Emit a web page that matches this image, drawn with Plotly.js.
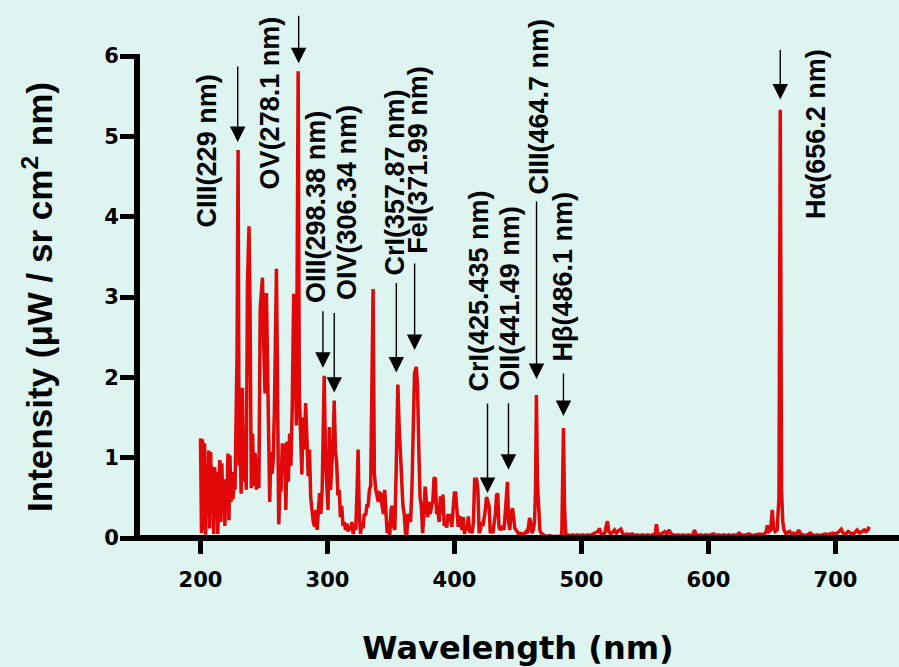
<!DOCTYPE html>
<html><head><meta charset="utf-8">
<script src="https://cdn.plot.ly/plotly-3.0.1.min.js"></script>
<style>html,body{margin:0;padding:0;background:#ddf4f0;}</style>
</head><body>
<div id="chart" style="width:899px;height:667px;"></div>
<script>
// Spectrum data: wavelength (nm) and intensity (µW / sr cm² nm)
const wlA = [200, 200.8, 201.6, 202.4, 203.2, 204, 204.8, 205.6, 206.4, 207.2, 208, 208.8, 209.6, 210.4, 211.2, 212, 212.8, 213.6, 214.4, 215.2, 216, 216.8, 217.6, 218.4, 219.2, 220, 220.8, 221.6, 222.4, 223.2, 224, 224.8, 225.6, 226.4, 227.2, 228, 228.8, 229.6, 230.4, 231.2, 232, 233, 234, 235, 236, 237, 238.2, 239, 240, 241, 242, 243, 244, 245, 246, 247, 248.8, 249.8, 250.8, 251.9, 252.8, 253.6, 254.5, 255.4, 256.3, 257.2, 258.2, 259.8];
const intA = [1.24, 0.06, 1.23, 0.10, 1.18, 0.04, 0.80, 0.30, 1.09, 0.12, 1.07, 0.35, 0.89, 0.05, 0.88, 0.28, 0.82, 0.05, 0.62, 0.97, 0.20, 0.93, 0.32, 0.73, 0.15, 0.70, 0.42, 1.05, 0.22, 1.03, 0.45, 0.82, 0.48, 0.75, 0.60, 1.50, 2.34, 4.83, 0.90, 1.20, 0.55, 1.87, 0.70, 1.30, 0.60, 3.20, 3.88, 2.90, 0.62, 1.30, 0.65, 1.06, 0.60, 1.00, 0.62, 2.86, 3.24, 2.40, 1.80, 3.05, 2.09, 1.30, 0.45, 1.07, 0.80, 0.95, 1.60, 3.35];

const wlB = [260.8, 261.6, 262.5, 263.4, 264.4, 265.3, 266.2, 267.2, 268.2, 269.2, 270.2, 271.2, 272.2, 273.4, 274.4, 275.5, 276.9, 277.8, 278.8, 279.8, 280.8, 281.8, 282.8, 283.8, 284.8, 285.8, 286.8, 287.8, 288.8, 289.9, 290.9, 291.8, 292.8, 293.8, 294.8, 295.8, 296.6, 297.4, 298.4, 299.4, 300.4, 301.4, 302.4, 303.4, 304.4, 305.3, 306.2, 307.2, 308.2, 309.2, 310.2, 311.2, 312.2, 313.2, 314.2, 315.2, 316.2, 317.2, 318.2, 319.2, 320.2, 321.2, 322.2, 323.3, 324.1, 325, 326, 327, 328, 329, 330, 331, 332, 333, 334, 335.9, 336.9, 338, 339];
const intB = [1.63, 0.17, 0.60, 0.58, 1.18, 0.80, 1.18, 0.35, 1.20, 0.70, 1.30, 0.90, 1.60, 3.04, 2.30, 1.40, 5.81, 1.80, 1.30, 0.79, 1.50, 1.10, 1.68, 1.20, 0.77, 1.10, 0.50, 0.35, 0.20, 0.14, 0.35, 0.10, 0.40, 0.56, 0.30, 0.60, 1.30, 2.02, 1.00, 0.60, 0.35, 1.38, 0.60, 0.90, 1.20, 1.71, 1.10, 0.94, 0.53, 0.60, 0.26, 0.40, 0.15, 0.20, 0.10, 0.18, 0.08, 0.15, 0.10, 0.20, 0.05, 0.14, 0.10, 0.60, 1.10, 0.30, 0.05, 0.20, 0.12, 0.30, 0.28, 0.40, 0.40, 0.60, 0.65, 3.10, 0.80, 0.60, 0.50];

const wlC = [340, 341, 342, 343, 344, 345, 346, 347, 348, 349, 350, 351, 352, 353, 354, 355.4, 356.4, 357.4, 358.4, 359.4, 360.4, 361.4, 362.4, 363.4, 364.4, 365.4, 366.5, 367.5, 368.5, 369.9, 370.9, 371.9, 372.9, 373.9, 374.9, 375.9, 376.9, 377.9, 378.9, 379.9, 380.9, 381.9, 382.9, 383.9, 384.9, 385.9, 386.9, 387.9, 388.9, 389.9, 390.9, 391.9, 392.9, 393.9, 394.9, 395.9, 396.9, 397.9, 398.9, 399.9, 400.9, 401.9, 402.9, 403.9, 404.9, 405.9, 406.9, 407.9, 408.9, 409.9, 410.9, 411.9, 412.9, 413.9, 414.9, 415.9, 417.4, 418.4, 419.4];
const intC = [0.45, 0.56, 0.55, 0.40, 0.30, 0.60, 0.35, 0.06, 0.20, 0.03, 0.35, 0.40, 0.15, 0.10, 0.80, 1.91, 1.40, 1.01, 0.68, 0.40, 0.30, 0.06, 0.03, 0.30, 0.25, 0.20, 0.63, 1.20, 2.05, 2.13, 1.88, 1.10, 0.50, 0.40, 0.06, 0.30, 0.64, 0.45, 0.26, 0.45, 0.30, 0.40, 0.45, 0.74, 0.75, 0.30, 0.34, 0.20, 0.52, 0.30, 0.54, 0.15, 0.20, 0.13, 0.30, 0.20, 0.30, 0.14, 0.40, 0.56, 0.56, 0.27, 0.14, 0.26, 0.25, 0.10, 0.26, 0.05, 0.15, 0.10, 0.27, 0.07, 0.10, 0.06, 0.20, 0.73, 0.73, 0.60, 0.06];

const wlD = [420.4, 421.4, 422.4, 423.4, 424.3, 425.2, 426.2, 427.2, 428.2, 429.2, 430.2, 431.2, 432.2, 433.2, 434.1, 435, 436, 437, 438, 439, 440, 440.9, 441.7, 442.6, 443.5, 444.5, 445.7, 446.6, 447.5, 448.5, 449.5, 450.5, 451.5, 452.5, 453.5, 454.5, 455.5, 456.5, 457.5, 458.5, 459.1, 460, 461, 462, 463, 463.8, 464.5, 465.3, 466.2, 467.2, 468.2, 469.5, 471, 473, 475, 477, 479, 481, 483, 484.5, 485.2, 485.8, 486.6, 487.5, 489, 491, 493, 495, 497, 499];
const intD = [0.10, 0.20, 0.15, 0.25, 0.35, 0.51, 0.45, 0.40, 0.06, 0.10, 0.06, 0.20, 0.30, 0.55, 0.54, 0.14, 0.10, 0.12, 0.15, 0.10, 0.30, 0.50, 0.70, 0.20, 0.10, 0.30, 0.37, 0.25, 0.12, 0.10, 0.07, 0.05, 0.07, 0.03, 0.05, 0.04, 0.06, 0.08, 0.06, 0.15, 0.25, 0.20, 0.06, 0.10, 0.20, 0.60, 1.78, 0.70, 0.30, 0.10, 0.06, 0.04, 0.03, 0.02, 0.03, 0.02, 0.02, 0.03, 0.02, 0.05, 0.80, 1.37, 0.40, 0.05, 0.04, 0.03, 0.04, 0.03, 0.04, 0.03];

const wlE = [501, 503, 505, 507, 509, 511, 513, 514.1, 515.5, 517, 518.5, 519.5, 520.4, 521.5, 523, 524.5, 526, 527.5, 529, 531, 532.5, 534, 536, 538, 540, 542, 544, 546, 548, 550, 552, 554, 556, 558, 559, 560, 562, 564, 565.5, 567, 569, 570.5, 572, 574, 576, 578, 580, 582, 584, 586, 588, 589, 590, 592, 594, 596, 598, 600, 602, 604, 606, 608, 610, 612, 614, 616, 618, 620, 622, 624, 626, 628, 630, 632, 634, 636, 638, 640, 642, 644, 645.5, 646.3, 647.5, 649, 650.2, 651.3, 652.5, 654, 655.5, 656.5, 657.5, 658.5, 659.5, 661, 662.5, 664, 665.5, 667, 669, 671, 672.5, 674, 676, 678, 680, 682, 684, 686, 688, 690, 692, 694, 696, 698, 700, 702, 704.5, 706, 708, 710, 712, 714, 716, 717, 719, 721, 722.6, 724, 725.5, 726.5];
const intE = [0.04, 0.03, 0.04, 0.03, 0.05, 0.07, 0.08, 0.12, 0.05, 0.04, 0.07, 0.15, 0.21, 0.08, 0.05, 0.07, 0.10, 0.06, 0.09, 0.11, 0.05, 0.04, 0.05, 0.04, 0.05, 0.03, 0.04, 0.03, 0.04, 0.03, 0.04, 0.03, 0.04, 0.05, 0.17, 0.06, 0.04, 0.06, 0.08, 0.05, 0.10, 0.05, 0.04, 0.03, 0.04, 0.03, 0.04, 0.03, 0.04, 0.03, 0.05, 0.10, 0.05, 0.03, 0.04, 0.03, 0.04, 0.03, 0.04, 0.05, 0.03, 0.04, 0.03, 0.04, 0.03, 0.04, 0.03, 0.04, 0.03, 0.06, 0.04, 0.03, 0.04, 0.05, 0.03, 0.04, 0.05, 0.05, 0.04, 0.05, 0.08, 0.16, 0.08, 0.10, 0.35, 0.12, 0.08, 0.10, 0.50, 5.33, 0.60, 0.20, 0.10, 0.05, 0.07, 0.08, 0.04, 0.06, 0.04, 0.10, 0.05, 0.04, 0.03, 0.04, 0.06, 0.04, 0.03, 0.04, 0.03, 0.04, 0.05, 0.04, 0.05, 0.06, 0.05, 0.07, 0.11, 0.06, 0.05, 0.08, 0.06, 0.05, 0.08, 0.10, 0.06, 0.08, 0.10, 0.08, 0.10, 0.14];

const xTickVals = [200, 300, 400, 500, 600, 700];
const yTickVals = [0, 1, 2, 3, 4, 5, 6];

// Emission line labels
const lineLabels = ['CIII(229 nm)', 'OV(278.1 nm)', 'OIII(298.38 nm)', 'OIV(306.34 nm)', 'CrI(357.87 nm)', 'FeI(371.99 nm)', 'CrI(425.435 nm)', 'OII(441.49 nm)', 'CIII(464.7 nm)', 'H\u03b2(486.1 nm)', 'H\u03b1(656.2 nm)'];
const labelX = [205.1, 254.5, 291.5, 315.0, 352.8, 371.7, 419.7, 444.1, 466.9, 485.8, 684.7];
const labelBottom = [3.86, 4.33, 2.91, 2.95, 3.25, 3.52, 1.81, 1.82, 4.27, 2.19, 3.96];
const arrowX = [229.3, 277.3, 296.4, 305.3, 354.2, 368.6, 426.0, 442.5, 464.6, 485.8, 656.5];
const arrowTip = [4.93, 5.91, 2.12, 1.81, 2.06, 2.34, 0.56, 0.85, 1.98, 1.52, 5.46];
const arrowLen = [77, 49, 58, 81, 91, 88, 91, 68, 179, 44, 51];

const wavelength = wlA.concat(wlB, wlC, wlD, wlE);
const intensity = intA.concat(intB, intC, intD, intE);

const bg = '#ddf4f0';
const tickFont = {family: 'DejaVu Sans, Verdana, sans-serif', size: 21, color: '#000', weight: 700};

const annotations = [];
lineLabels.forEach((t, i) => {
  annotations.push({
    x: labelX[i], y: labelBottom[i], xref: 'x', yref: 'y',
    text: t, showarrow: false, textangle: -90,
    xanchor: 'center', yanchor: 'bottom', borderpad: 0,
    font: {family: 'Liberation Sans, Arial, sans-serif', size: 27, color: '#000', weight: 700}
  });
  annotations.push({
    x: arrowX[i], y: arrowTip[i], xref: 'x', yref: 'y',
    text: '', showarrow: true, ax: 0, ay: -arrowLen[i],
    arrowhead: 2, arrowsize: 2.2, arrowwidth: 1.4, arrowcolor: '#000', standoff: 0
  });
});

const trace = {
  x: wavelength, y: intensity, type: 'scatter', mode: 'lines',
  line: {color: '#e00808', width: 3.5},
  hoverinfo: 'x+y'
};

const layout = {
  width: 899, height: 667,
  paper_bgcolor: bg, plot_bgcolor: bg,
  margin: {l: 137, r: 0, t: 56, b: 129, pad: 0},
  showlegend: false,
  xaxis: {
    range: [150, 750], tickvals: xTickVals, ticktext: xTickVals.map(String),
    showgrid: false, zeroline: false, showline: false,
    ticks: 'outside', ticklen: 15, tickwidth: 5, tickcolor: '#000',
    ticklabelstandoff: 8,
    tickfont: tickFont,
    title: {text: 'Wavelength (nm)', standoff: 50,
            font: {family: 'DejaVu Sans, Verdana, sans-serif', size: 32, color: '#000', weight: 700}}
  },
  yaxis: {
    range: [0, 6], tickvals: yTickVals, ticktext: yTickVals.map(String),
    showgrid: false, zeroline: false, showline: false,
    ticks: 'outside', ticklen: 16, tickwidth: 5, tickcolor: '#000',
    ticklabelstandoff: -3,
    tickfont: tickFont,
    title: {text: 'Intensity (\u03bcW / sr cm<sup>2</sup> nm)', standoff: 40,
            font: {family: 'Liberation Sans, Arial, sans-serif', size: 35, color: '#000', weight: 700}}
  },
  shapes: [
    {type: 'line', xref: 'paper', yref: 'paper', x0: 0, x1: 0, y0: -0.006, y1: 1.004,
     line: {color: '#000', width: 6}},
    {type: 'line', xref: 'paper', yref: 'paper', x0: -0.004, x1: 1.01, y0: 0, y1: 0,
     line: {color: '#000', width: 6}}
  ],
  annotations: annotations
};

Plotly.newPlot('chart', [trace], layout, {displayModeBar: false, staticPlot: true});
</script>
</body></html>
